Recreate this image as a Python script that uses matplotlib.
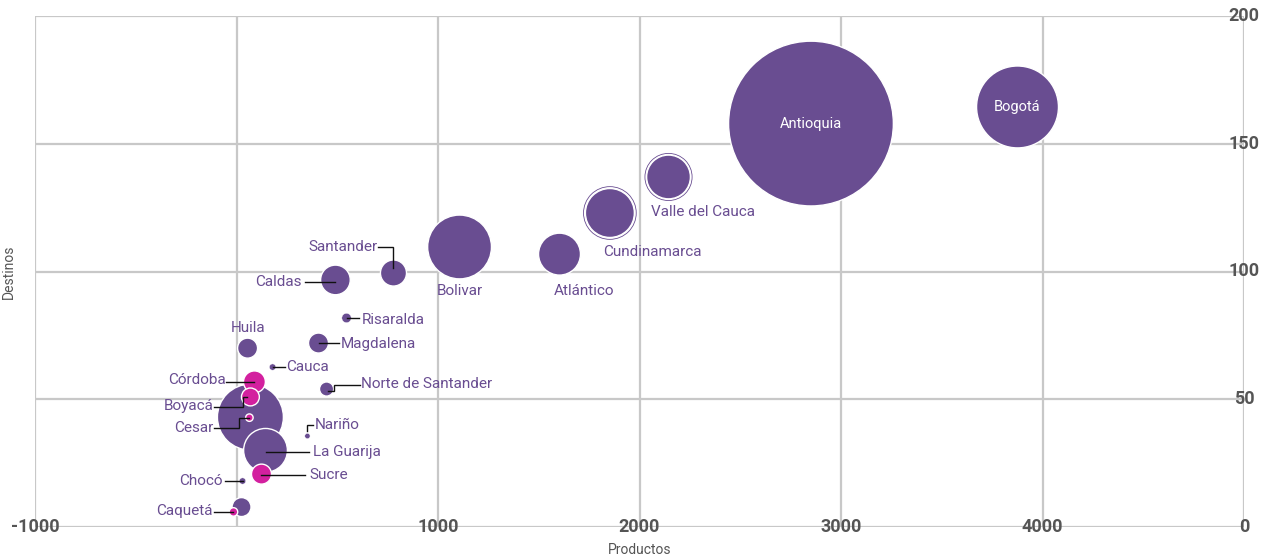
import matplotlib.pyplot as plt
from matplotlib.transforms import IdentityTransform
import numpy as np

plt.rcParams['font.family'] = ['Roboto', 'DejaVu Sans']

# serie morada
dep_a = ["Antioquia", "Bogotá", "Valle del Cauca", "Cundinamarca", "Atlántico",
         "Bolivar", "Santander", "Caldas", "Risaralda", "Magdalena",
         "Norte de Santander", "Cauca", "Huila", "Cesar*", "La Guarija",
         "Nariño", "Chocó", "Caquetá*"]
prod_a = [2851, 3876, 2144, 1853, 1603, 1107, 779, 491, 546, 407,
          447, 179, 55, 69, 144, 352, 30, 25]
dest_a = [157.9, 164.4, 137.0, 122.9, 106.8, 109.6, 99.4, 96.7, 81.8, 72.0,
          54.0, 62.6, 70.0, 43.0, 30.0, 35.6, 18.0, 7.8]
valor_a = [680, 168, 48, 60, 44, 102, 17, 22, 2.2, 10,
           5, 1.0, 10, 109, 48, 0.7, 1.0, 9]

# serie magenta
dep_b = ["Córdoba", "Boyacá", "Cesar", "Sucre", "Caquetá"]
prod_b = [89, 69, 64, 124, -15]
dest_b = [56.8, 50.9, 42.8, 20.7, 5.9]
valor_b = [12, 8, 1.4, 10, 1.8]

x_ticks = [-1000, 1000, 2000, 3000, 4000]
y_ticks = [0, 50, 100, 150, 200]

purple = '#694d91'
magenta = '#d3209f'
grid_c = '#c8c8c8'
tick_c = '#555555'

fig = plt.figure(figsize=(12.69, 5.60), dpi=100)
ax = fig.add_axes([35 / 1269, 1 - 527 / 560, (1244 - 35) / 1269, (527 - 16) / 560])
ax.set_xlim(-1000, 5000)
ax.set_ylim(0, 200)

for v in range(-1000, 5001, 1000):
    ax.axvline(v, color=grid_c, lw=1.6, zorder=0)
for v in range(0, 201, 50):
    ax.axhline(v, color=grid_c, lw=1.6, zorder=0)
for s in ax.spines.values():
    s.set_visible(False)
ax.set_xticks([])
ax.set_yticks([])

k = 20.7
va = np.array(valor_a)
vb = np.array(valor_b)
ax.scatter(prod_a, dest_a, s=va * k, color=purple,
           edgecolor='white', linewidth=np.where(va < 3, 0.3, 1.0), zorder=3)
# anillo de seleccion
sel = [dep_a.index("Valle del Cauca"), dep_a.index("Cundinamarca")]
ax.scatter([prod_a[i] for i in sel], [dest_a[i] for i in sel],
           s=[valor_a[i] * k * 1.16 for i in sel], facecolor='none',
           edgecolor=purple, linewidth=0.6, zorder=2)
ax.scatter(prod_b, dest_b, s=vb * k, color=magenta,
           edgecolor='white', linewidth=1.0, zorder=4)

# ticks dibujados sobre las lineas
for v in x_ticks:
    ax.text(v, 0, str(v), ha='center', va='center', fontsize=13,
            fontweight='bold', color=tick_c, zorder=5)
for v in y_ticks:
    ax.text(5000, v, str(v), ha='center', va='center', fontsize=13,
            fontweight='bold', color=tick_c, zorder=5)

ax.text(-0.022, 0.5, 'Destinos', transform=ax.transAxes, rotation=90,
        ha='center', va='center', fontsize=10, color=tick_c)
ax.text(0.5, -0.045, 'Productos', transform=ax.transAxes,
        ha='center', va='center', fontsize=10, color=tick_c)

# etiquetas: (desplazamiento en px (dx, dy hacia abajo), ha, linea guia)
labels = {
    "Santander": ((-16, -26), 'right', [(0, -5), (0, -26), (-15, -26)]),
    "Caldas": ((-34, 2), 'right', [(0, 2), (-30, 2)]),
    "Risaralda": ((15, 2), 'left', [(0, 0), (12, 0)]),
    "Magdalena": ((22, 1), 'left', [(0, 0), (20, 0)]),
    "Norte de Santander": ((34, -5), 'left', [(1, 2), (7, 2), (7, -4), (33, -4)]),
    "Cauca": ((14, 0), 'left', [(0, 0), (12, 0)]),
    "Huila": ((0, -20), 'center', None),
    "Bolivar": ((0, 44), 'center', None),
    "Atlántico": ((25, 37), 'center', None),
    "Cundinamarca": ((42, 39), 'center', None),
    "Valle del Cauca": ((34, 35), 'center', None),
    "La Guarija": ((47, 2), 'left', [(0, 2), (43, 2)]),
    "Nariño": ((7, -11), 'left', [(0, -5), (0, -11), (6, -11)]),
    "Chocó": ((-20, 0), 'right', [(0, 0), (-18, 0)]),
    "Córdoba": ((-29, -2), 'right', [(0, 0), (-28, 0)]),
    "Boyacá": ((-37, 9), 'right', [(-3, 0), (-7, 0), (-7, 10), (-36, 10)]),
    "Cesar": ((-36, 10), 'right', [(0, 0), (-10, 0), (-10, 10), (-35, 10)]),
    "Sucre": ((48, 1), 'left', [(0, 1), (44, 1)]),
    "Caquetá": ((-21, -1), 'right', [(0, 0), (-19, 0)]),
}

fig.canvas.draw()
points = list(zip(dep_a, prod_a, dest_a)) + list(zip(dep_b, prod_b, dest_b))
for name, x, y in points:
    if name in ("Antioquia", "Bogotá"):
        ax.text(x, y, name, ha='center', va='center', fontsize=10.5,
                color='white', zorder=6)
        continue
    if name not in labels:
        continue
    (dx, dy), ha, guide = labels[name]
    ax.annotate(name, (x, y), xytext=(dx, -dy), textcoords='offset pixels',
                ha=ha, va='center', fontsize=11, color=purple, zorder=6)
    if guide:
        px, py = ax.transData.transform((x, y))
        gx = [px + g[0] for g in guide]
        gy = [py - g[1] for g in guide]
        ax.plot(gx, gy, color='#111111', lw=1.0, transform=IdentityTransform(),
                zorder=6, solid_joinstyle='miter')

fig.savefig('out.png', dpi=100)
